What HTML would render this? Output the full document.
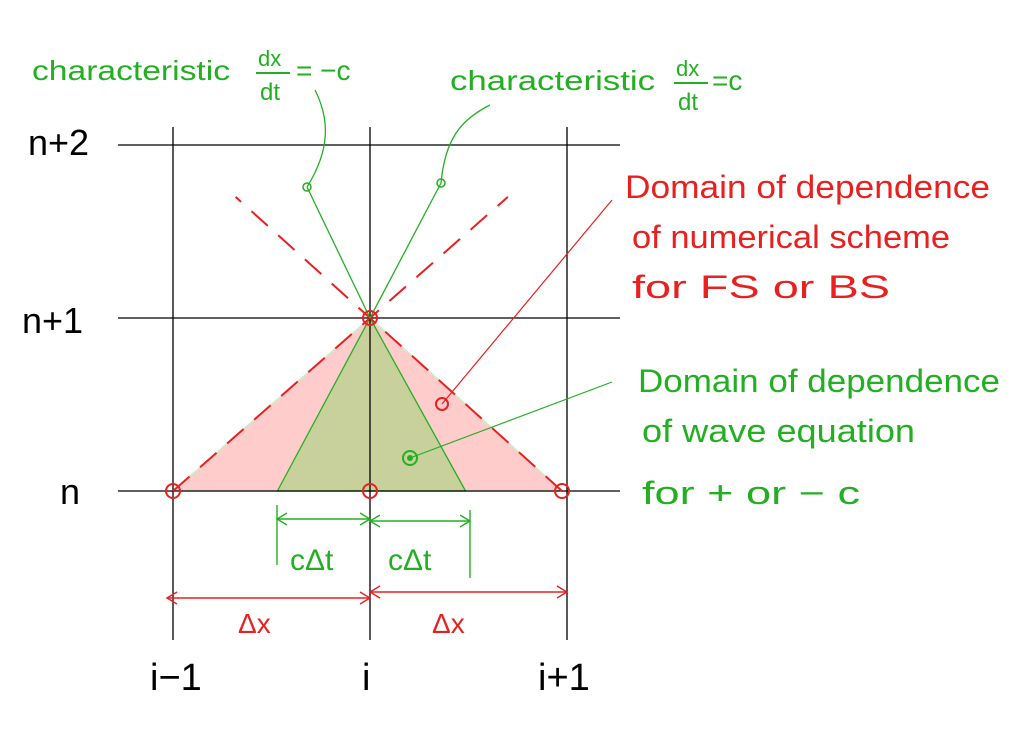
<!DOCTYPE html>
<html><head><meta charset="utf-8">
<style>
html,body{margin:0;padding:0;background:#fff;}
svg{display:block;}
text{font-family:"Liberation Sans",sans-serif;}
</style></head>
<body>
<svg id="s" width="1010" height="750" viewBox="0 0 1010 750" xmlns="http://www.w3.org/2000/svg">
<g id="fills"></g>
<g id="grid"></g>
<g id="marks"></g>
<g id="labels">
  <text x="28" y="155" font-size="36" fill="#000">n+2</text>
  <text x="22" y="333" font-size="36" fill="#000">n+1</text>
  <text x="60" y="504" font-size="36" fill="#000">n</text>
  <text x="150" y="690" font-size="38" fill="#000">i−1</text>
  <text x="362" y="690" font-size="38" fill="#000">i</text>
  <text x="538" y="690" font-size="38" fill="#000">i+1</text>

  <text x="32" y="80" font-size="28" fill="#22b022" textLength="198" lengthAdjust="spacingAndGlyphs">characteristic</text>
  <text x="258" y="66" font-size="22" fill="#22b022">dx</text>
  <line x1="256" y1="73" x2="290" y2="73" stroke="#22b022" stroke-width="2"/>
  <text x="260" y="100" font-size="24" fill="#22b022">dt</text>
  <text x="296" y="80" font-size="28" fill="#22b022">= −c</text>

  <text x="450" y="90" font-size="28" fill="#22b022" textLength="205" lengthAdjust="spacingAndGlyphs">characteristic</text>
  <text x="676" y="76" font-size="22" fill="#22b022">dx</text>
  <line x1="674" y1="83" x2="708" y2="83" stroke="#22b022" stroke-width="2"/>
  <text x="678" y="110" font-size="24" fill="#22b022">dt</text>
  <text x="712" y="90" font-size="28" fill="#22b022">=c</text>

  <g fill="#e82020" font-size="32">
    <text x="625" y="198" textLength="365" lengthAdjust="spacingAndGlyphs">Domain of dependence</text>
    <text x="632" y="248" textLength="318" lengthAdjust="spacingAndGlyphs">of numerical scheme</text>
    <text x="632" y="298" textLength="258" lengthAdjust="spacingAndGlyphs">for FS or BS</text>
  </g>
  <g fill="#22b022" font-size="32">
    <text x="638" y="392" textLength="362" lengthAdjust="spacingAndGlyphs">Domain of dependence</text>
    <text x="642" y="442" textLength="273" lengthAdjust="spacingAndGlyphs">of wave equation</text>
    <text x="642" y="504" textLength="218" lengthAdjust="spacingAndGlyphs">for + or − c</text>
  </g>
  <text x="290" y="570" font-size="30" fill="#22b022">cΔt</text>
  <text x="388" y="570" font-size="30" fill="#22b022">cΔt</text>
  <text x="238" y="633" font-size="28" fill="#e82020">Δx</text>
  <text x="432" y="633" font-size="28" fill="#e82020">Δx</text>
</g>
</svg>
<script>
const colIdx = [-1, 0, 1];
const rowIdx = [0, 1, 2];
const courantHalf = [0.47]; // cΔt / Δx
const NS = "http://www.w3.org/2000/svg";
const xOf = i => 370 + i * 197;
const yOf = n => 491 - n * 173;
function mk(parent, tag, attrs){
  const e = document.createElementNS(NS, tag);
  for (const k in attrs) e.setAttribute(k, attrs[k]);
  document.getElementById(parent).appendChild(e);
  return e;
}
rowIdx.forEach(n=>{
  const l = mk('grid','line',{x1:118,x2:620,y1:yOf(n),y2:yOf(n),stroke:'#000','stroke-width':1.3});
  
  
});
colIdx.forEach(i=>{
  const l = mk('grid','line',{x1:xOf(i),x2:xOf(i),y1:127,y2:640,stroke:'#000','stroke-width':1.3});
  
  
});
const ax = xOf(0), ay = yOf(1), by = yOf(0);
const cl = xOf(-courantHalf[0]), cr = xOf(courantHalf[0]);
const red = mk('fills','polygon',{points:`${xOf(-1)},${by} ${ax},${ay} ${xOf(1)-5},${by}`,fill:'#ffcccc',stroke:'#c8f0c8','stroke-width':1.5});


const grn = mk('fills','polygon',{points:`${cl},${by} ${ax},${ay} ${cr+3},${by}`,fill:'#c8d09c',stroke:'#22b022','stroke-width':1.3});


// dashed red lines through apex
function ext(x0,y0,t){ return [x0 + (ax-x0)*t, y0 + (ay-y0)*t]; }
[[xOf(-1),by],[xOf(1)-5,by]].forEach(p=>{
  const e = ext(p[0],p[1],1.7);
  const l = mk('marks','line',{x1:p[0],y1:p[1],x2:e[0],y2:e[1],stroke:'#e82020','stroke-width':2,'stroke-dasharray':'22 14'});
  
  
});
[[307,187],[441,183]].forEach(p=>{
  const l = mk('marks','line',{x1:ax,y1:ay,x2:p[0],y2:p[1],stroke:'#22b022','stroke-width':1.3});
  
  
  mk('marks','circle',{cx:p[0],cy:p[1],r:4,fill:'none',stroke:'#22b022','stroke-width':1.5});
});
mk('marks','path',{d:'M307,187 C330,150 330,120 315,90',fill:'none',stroke:'#22b022','stroke-width':1.3});
mk('marks','path',{d:'M441,183 C445,140 460,120 490,105',fill:'none',stroke:'#22b022','stroke-width':1.3});
mk('marks','line',{x1:442,y1:404,x2:612,y2:200,stroke:'#e82020','stroke-width':1.2});
mk('marks','circle',{cx:442,cy:404,r:6,fill:'none',stroke:'#e82020','stroke-width':2});
mk('marks','line',{x1:410,y1:458,x2:612,y2:382,stroke:'#22b022','stroke-width':1.2});
mk('marks','circle',{cx:410,cy:458,r:7,fill:'none',stroke:'#22b022','stroke-width':2});
mk('marks','circle',{cx:410,cy:458,r:3,fill:'#22b022'});
[[xOf(-1),by],[ax,by],[xOf(1)-5,by],[ax,ay]].forEach(p=>{
  const c = mk('marks','circle',{cx:p[0],cy:p[1],r:7,fill:'none',stroke:'#e82020','stroke-width':2});
  
  
});
function arrow(x1,x2,y,col){
  mk('marks','line',{x1:x1,y1:y,x2:x2,y2:y,stroke:col,'stroke-width':1.4});
  const d = x2>x1?1:-1;
  mk('marks','path',{d:`M${x2-d*10},${y-6} L${x2},${y} L${x2-d*10},${y+6}`,fill:'none',stroke:col,'stroke-width':1.4});
  mk('marks','path',{d:`M${x1+d*10},${y-6} L${x1},${y} L${x1+d*10},${y+6}`,fill:'none',stroke:col,'stroke-width':1.4});
}
arrow(277,ax,519,'#22b022');
arrow(ax,470,521,'#22b022');
mk('marks','line',{x1:277,y1:505,x2:277,y2:565,stroke:'#22b022','stroke-width':1.4});
mk('marks','line',{x1:470,y1:510,x2:470,y2:578,stroke:'#22b022','stroke-width':1.4});
arrow(167,ax,598,'#e82020');
arrow(ax,567,592,'#e82020');
</script>
</body></html>
